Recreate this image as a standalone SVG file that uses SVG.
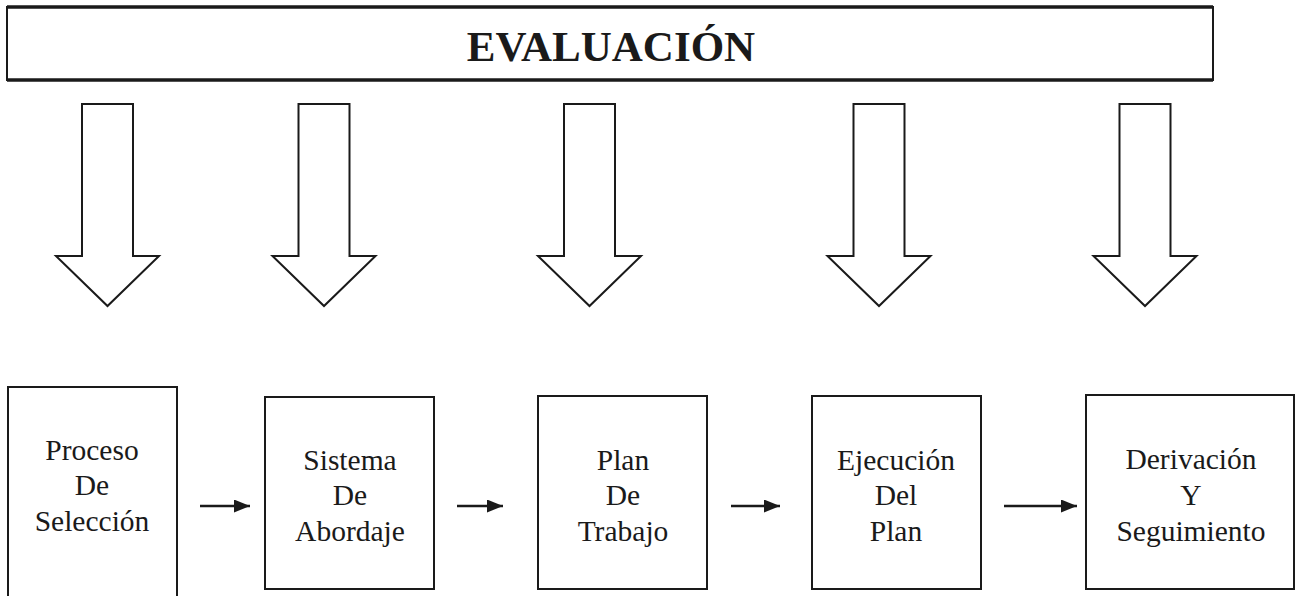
<svg xmlns="http://www.w3.org/2000/svg" width="1301" height="596" viewBox="0 0 1301 596">
<style>
.bg{fill:#ffffff}
.box{fill:#ffffff;stroke:#1a1a1a;stroke-width:2}
.big{fill:#ffffff;stroke:#1a1a1a;stroke-width:2}
.down{fill:#ffffff;stroke:#1a1a1a;stroke-width:2;stroke-linejoin:miter}
.lbl{font-family:"Liberation Serif",serif;font-size:29.5px;fill:#1a1a1a;text-anchor:middle}
.title{font-family:"Liberation Serif",serif;font-size:43px;font-weight:bold;fill:#1a1a1a;text-anchor:middle}
.conn{stroke:#1a1a1a;stroke-width:2.6;fill:none}
</style>
<defs>
<marker id="ah" markerWidth="17" markerHeight="14" refX="16" refY="6.5" orient="auto" markerUnits="userSpaceOnUse">
<path d="M0,0 L16,6.5 L0,13 Z" fill="#1a1a1a"/>
</marker>
<path id="darrow" d="M-25.5,0 L25.5,0 L25.5,152 L51.5,152 L0,202 L-51.5,152 L-25.5,152 Z"/>
</defs>
<rect class="bg" x="0" y="0" width="1301" height="596"/>

<g id="evaluacion">
<rect class="big" x="7" y="7" width="1206" height="73"/>
<line x1="7" y1="7" x2="1213" y2="7" stroke="#1a1a1a" stroke-width="3.5"/>
<line x1="7" y1="80" x2="1213" y2="80" stroke="#1a1a1a" stroke-width="3.5"/>
<text class="title" x="611" y="61">EVALUACIÓN</text>
</g>

<g id="down-arrows">
<use href="#darrow" class="down" x="107.5" y="104"/>
<use href="#darrow" class="down" x="324" y="104"/>
<use href="#darrow" class="down" x="589.5" y="104"/>
<use href="#darrow" class="down" x="879" y="104"/>
<use href="#darrow" class="down" x="1145" y="104"/>
</g>

<g id="proceso">
<rect class="box" x="8" y="387" width="169" height="215"/>
<text class="lbl" x="92" y="460">Proceso</text>
<text class="lbl" x="92" y="495">De</text>
<text class="lbl" x="92" y="531">Selección</text>
</g>

<g id="sistema">
<rect class="box" x="265" y="397" width="169" height="192"/>
<text class="lbl" x="350" y="470">Sistema</text>
<text class="lbl" x="350" y="505">De</text>
<text class="lbl" x="350" y="541">Abordaje</text>
</g>

<g id="plan">
<rect class="box" x="538" y="396" width="169" height="193"/>
<text class="lbl" x="623" y="470">Plan</text>
<text class="lbl" x="623" y="505">De</text>
<text class="lbl" x="623" y="541">Trabajo</text>
</g>

<g id="ejecucion">
<rect class="box" x="812" y="396" width="169" height="193"/>
<text class="lbl" x="896" y="470">Ejecución</text>
<text class="lbl" x="896" y="505">Del</text>
<text class="lbl" x="896" y="541">Plan</text>
</g>

<g id="derivacion">
<rect class="box" x="1086" y="395" width="208" height="194"/>
<text class="lbl" x="1191" y="469">Derivación</text>
<text class="lbl" x="1191" y="505">Y</text>
<text class="lbl" x="1191" y="541">Seguimiento</text>
</g>

<g id="connectors">
<line class="conn" x1="200" y1="506" x2="250" y2="506" marker-end="url(#ah)"/>
<line class="conn" x1="457" y1="506" x2="503" y2="506" marker-end="url(#ah)"/>
<line class="conn" x1="731" y1="506" x2="780" y2="506" marker-end="url(#ah)"/>
<line class="conn" x1="1004" y1="506" x2="1077" y2="506" marker-end="url(#ah)"/>
</g>
</svg>
